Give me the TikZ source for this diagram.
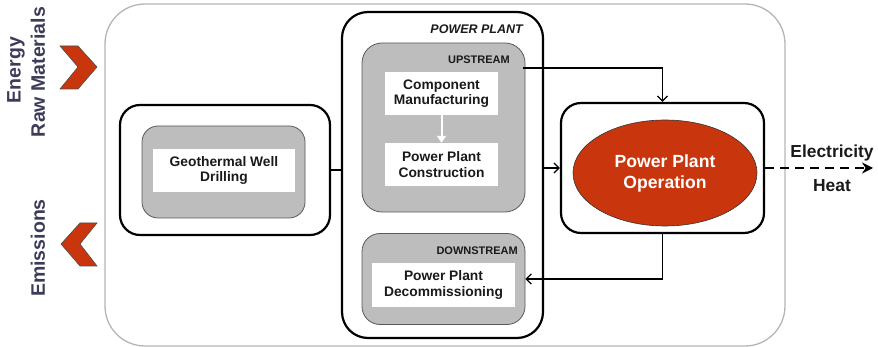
\documentclass[tikz,border=0pt]{standalone}
\usepackage{fontspec}
\setmainfont{Liberation Sans}
\usetikzlibrary{arrows.meta,shapes.geometric,calc}
\definecolor{boxgray}{HTML}{BDBDBD}
\definecolor{framegray}{HTML}{B5B5B5}
\definecolor{rust}{HTML}{C9360E}
\definecolor{sidetext}{HTML}{3C3C5A}
\definecolor{ink}{HTML}{1A1A1A}
\tikzset{
  stage/.style={draw=black, line width=2.2pt, rounded corners=20pt, fill=white},
  phase/.style={draw=black!65, line width=0.8pt, rounded corners=16pt, fill=boxgray},
  task/.style={fill=white, inner sep=0pt, align=center, text=ink,
    font=\fontsize{13.8}{15.5}\selectfont\bfseries},
  tag/.style={font=\fontsize{11}{12}\selectfont\bfseries, text=ink, anchor=east, inner sep=0pt},
  link/.style={draw=black, line width=1.3pt, -{Straight Barb[length=5pt,width=10pt,line width=1.3pt]}},
  chevron/.style={fill=rust, draw=black!70, line width=0.6pt},
  sidelabel/.style={rotate=90, text=sidetext, font=\fontsize{19.5}{21}\selectfont\bfseries, inner sep=0pt}
}
\begin{document}
\begin{tikzpicture}[x=1pt,y=-1pt]
\useasboundingbox (0,0) rectangle (878,347);

% system boundary
\node (system) [draw=framegray, line width=1.3pt, rounded corners=40pt,
  minimum width=680pt, minimum height=342pt, inner sep=0pt] at (445,175) {};

% inputs and outputs on the left
\node (energy) [sidelabel] at (16,70) {Energy};
\node (raw) [sidelabel] at (38,72) {Raw Materials};
\node (emis) [sidelabel] at (38,248) {Emissions};
\path[chevron] (60,46) -- (78,46) -- (97,67) -- (78,89) -- (60,89) -- (78,67) -- cycle;
\path[chevron] (97,223) -- (80,223) -- (61,244) -- (80,266) -- (97,266) -- (80,244) -- cycle;

% well drilling
\node (geo) [stage, minimum width=210pt, minimum height=130pt] at (225,170) {};
\node (geoin) [phase, minimum width=163pt, minimum height=92pt] at (223.5,172) {};
\node (drill) [task, minimum width=142pt, minimum height=43pt] at (224,170.5) {Geothermal Well\\Drilling};

% power plant
\node (plant) [stage, rounded corners=26pt, minimum width=201pt, minimum height=326pt] at (442.5,175) {};
\node (plantlbl) [font=\fontsize{12.5}{14}\selectfont\bfseries\itshape, text=ink, anchor=east, inner sep=0pt] at (523,29) {POWER PLANT};

\node (upstream) [phase, rounded corners=20pt, minimum width=163pt, minimum height=169pt] at (443.5,127.5) {};
\node (uplbl) [tag] at (510,60) {UPSTREAM};
\node (comp) [task, minimum width=113pt, minimum height=43pt] at (441.5,93.5) {Component\\Manufacturing};
\node (constr) [task, minimum width=113pt, minimum height=43pt] at (441.5,164.5) {Power Plant\\Construction};
\draw[white, line width=2pt, -{Triangle[length=7pt,width=9pt]}] (comp.south) -- (constr.north);

\node (downstream) [phase, rounded corners=18pt, minimum width=163pt, minimum height=91pt] at (443.5,279) {};
\node (downlbl) [tag] at (518,251) {DOWNSTREAM};
\node (decom) [task, minimum width=143pt, minimum height=44pt] at (443.5,285) {Power Plant\\Decommissioning};

% operation
\node (opbox) [stage, minimum width=203pt, minimum height=130pt] at (662.5,168) {};
\node (oper) [ellipse, fill=rust, draw=black!80, line width=0.6pt, minimum width=184pt, minimum height=106pt,
  inner sep=0pt, text=white, align=center, font=\fontsize{17.6}{21}\selectfont\bfseries] at (665,173) {Power Plant\\Operation};

% flows
\coordinate (uptap) at (523,68);
\draw[link] (uptap) -| (opbox.north);
\draw[link] (plant.east |- opbox.west) -- (opbox.west);
\draw[link] (opbox.south) |- (downstream.east);
\draw[black, line width=1.3pt] (geo.east) -- (geo.east -| plant.west);

\coordinate (out) at (873,168);
\draw[black, line width=2.4pt, dash pattern=on 9pt off 6pt, -{Stealth[length=11pt,width=11pt]}] (opbox.east) -- (out);
\node (elec) [font=\fontsize{17.4}{19}\selectfont\bfseries, text=ink, inner sep=0pt] at (832,153) {Electricity};
\node (heat) [font=\fontsize{17.4}{19}\selectfont\bfseries, text=ink, inner sep=0pt] at (832,186) {Heat};
\end{tikzpicture}
\end{document}
